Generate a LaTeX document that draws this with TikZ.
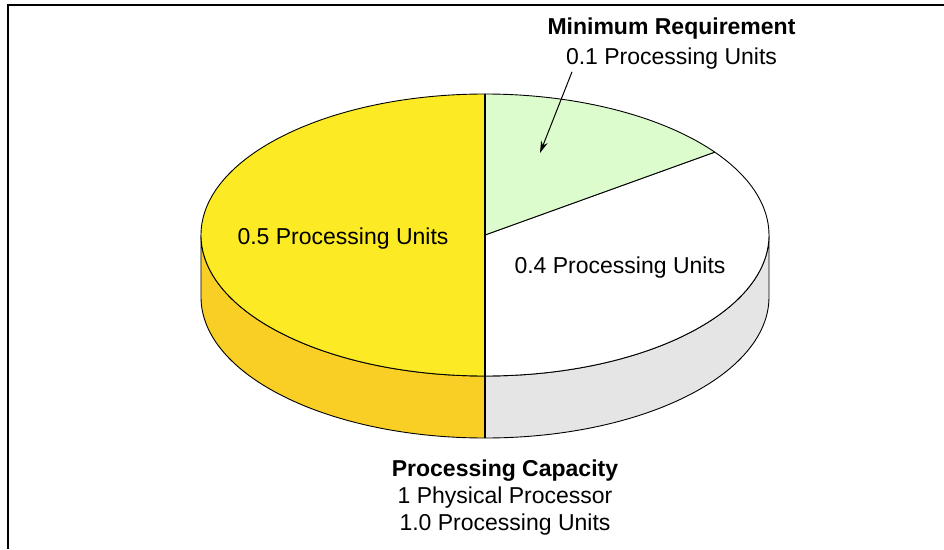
\documentclass[tikz,border=0pt]{standalone}
\usepackage{fontspec}
\setmainfont{Liberation Sans}
\usetikzlibrary{arrows.meta}
\definecolor{topyellow}{RGB}{252,235,36}
\definecolor{sideyellow}{RGB}{249,207,38}
\definecolor{topgreen}{RGB}{221,252,206}
\definecolor{sidegray}{RGB}{229,229,229}
\tikzset{
  piepart/.style={draw=black, line width=0.9pt, line join=round},
  unitstext/.style={font=\fontsize{23}{27}\selectfont, align=center, inner sep=0pt},
  pointer/.style={-{Stealth[length=12pt,width=7pt]}, line width=1pt},
}

\begin{document}
\begin{tikzpicture}[x=1pt, y=1pt]
  \useasboundingbox (-485,-314) rectangle (459,235);
  % frame
  \draw[line width=1.5pt] (-477,-314) -- (-477,230) -- (459,230);
  \coordinate (c) at (0,0);
  % sides of the disc
  \filldraw[piepart, fill=sideyellow]
    (-284,0) arc[start angle=180, end angle=270, x radius=284, y radius=141]
    -- ++(0,-62) arc[start angle=270, end angle=180, x radius=284, y radius=141]
    -- cycle;
  \filldraw[piepart, fill=sidegray]
    (0,-141) arc[start angle=270, end angle=360, x radius=284, y radius=141]
    -- ++(0,-62) arc[start angle=360, end angle=270, x radius=284, y radius=141]
    -- cycle;
  % top slices
  \filldraw[piepart, fill=topyellow] (c) -- (0,141)
    arc[start angle=90, end angle=270, x radius=284, y radius=141] -- cycle;
  \filldraw[piepart, fill=white] (c) -- (0,-141)
    arc[start angle=-90, end angle=36, x radius=284, y radius=141] -- cycle;
  \filldraw[piepart, fill=topgreen] (c) -- (36:284 and 141)
    arc[start angle=36, end angle=90, x radius=284, y radius=141] -- cycle;
  \draw[line width=1.5pt] (0,141) -- (0,-203);
  % texts
  \node[unitstext, anchor=base] (half) at (-142,-9) {0.5 Processing Units};
  \node[unitstext, anchor=base] (rest) at (135,-38) {0.4 Processing Units};
  \node[unitstext, font=\fontsize{23}{30}\selectfont, anchor=north] (minreq) at (186.5,217)
    {\textbf{Minimum Requirement}\\0.1 Processing Units};
  \node[unitstext, anchor=north] (capacity) at (20,-225)
    {\textbf{Processing Capacity}\\1 Physical Processor\\1.0 Processing Units};
  \coordinate (tip) at (55,82);
  \draw[pointer] ([xshift=-99.5pt,yshift=-2pt]minreq.south) -- (tip);
\end{tikzpicture}
\end{document}
